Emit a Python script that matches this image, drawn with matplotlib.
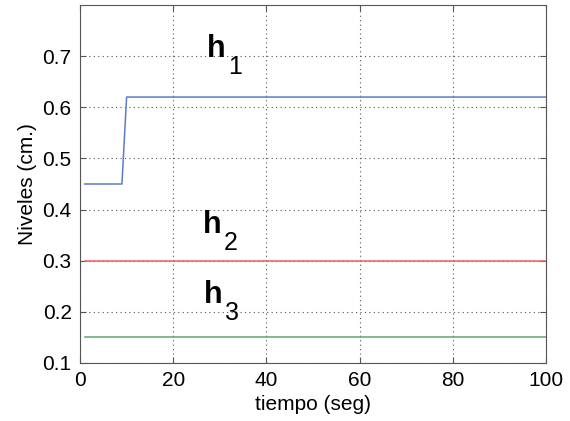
import matplotlib
matplotlib.use("Agg")
import matplotlib.pyplot as plt

t1 = [1, 9, 10, 100]
h1 = [0.45, 0.45, 0.62, 0.62]
t2 = [1, 100]
h2 = [0.30, 0.30]
t3 = [1, 100]
h3 = [0.15, 0.15]
xticks = [0, 20, 40, 60, 80, 100]
yticks = [0.1, 0.2, 0.3, 0.4, 0.5, 0.6, 0.7]
labels = [("1", 27.3, 0.698), ("2", 26.4, 0.354), ("3", 26.6, 0.217)]

plt.rcParams['font.family'] = ['Liberation Sans', 'DejaVu Sans']
fig = plt.figure(figsize=(5.7, 4.21), dpi=100)
ax = fig.add_axes([80/570, 1-363/421, (546-80)/570, (363-5)/421])
ax.plot(t1, h1, color='#5b7bc8', lw=1.1)
ax.plot(t2, h2, color='#e86060', lw=1.1)
ax.plot(t3, h3, color='#5aa86a', lw=1.1)
ax.set_xlim(0, 100)
ax.set_ylim(0.1, 0.8)
ax.set_xticks(xticks)
ax.set_yticks(yticks)
ax.set_xticklabels([str(v) for v in xticks])
ax.set_yticklabels([f"{v:.1f}" for v in yticks])
ax.tick_params(labelsize=15, direction='in', length=4, color='#555555', pad=6,
               top=True, right=True)
ax.grid(True, linestyle=(0, (1, 3)), color='#555555', lw=0.8)
for s in ax.spines.values():
    s.set_color('#555555')
ax.set_xlabel('tiempo (seg)', fontsize=15, labelpad=3)
ax.set_ylabel('Niveles (cm.)', fontsize=15, labelpad=4)
for sub, x, y in labels:
    ax.text(x, y, 'h', fontsize=22, fontweight='bold', ha='left', va='baseline')
    ax.annotate(sub, xy=(x, y), xytext=(15, -12.2), textcoords='offset points',
                fontsize=18, ha='left', va='baseline')
fig.savefig('out.png', dpi=100)
